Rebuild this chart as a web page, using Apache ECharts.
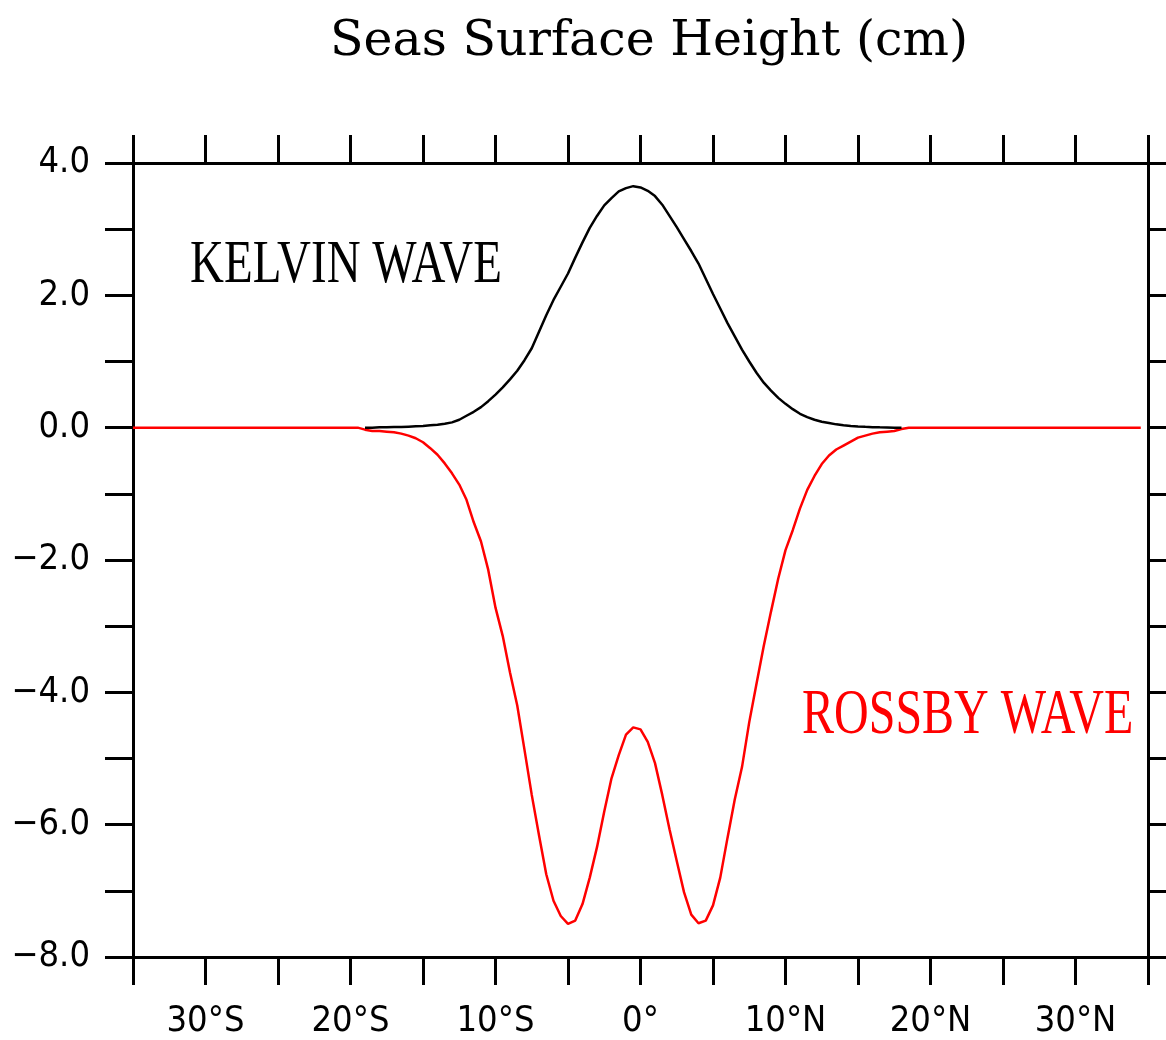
<!DOCTYPE html>
<html><head><meta charset="utf-8">
<script src="https://cdn.jsdelivr.net/npm/echarts@6/dist/echarts.min.js"></script>
<style>html,body{margin:0;padding:0;background:#fff}#c{width:1166px;height:1040px}</style>
</head><body><div id="c"></div><script>
// ---- data ----
const waveLat = [-19,-18.5,-18,-17.5,-17,-16.5,-16,-15.5,-15,-14.5,-14,-13.5,-13,-12.5,-12,-11.5,-11,-10.5,-10,-9.5,-9,-8.5,-8,-7.5,-7,-6.5,-6,-5.5,-5,-4.5,-4,-3.5,-3,-2.5,-2,-1.5,-1,-0.5,0,0.5,1,1.5,2,2.5,3,3.5,4,4.5,5,5.5,6,6.5,7,7.5,8,8.5,9,9.5,10,10.5,11,11.5,12,12.5,13,13.5,14,14.5,15,15.5,16,16.5,17,17.5,18];
const kelvinSSH = [0,0,0.005,0.005,0.01,0.01,0.015,0.02,0.025,0.035,0.045,0.06,0.08,0.12,0.18,0.24,0.31,0.4,0.5,0.61,0.73,0.86,1.02,1.2,1.45,1.7,1.93,2.13,2.33,2.57,2.8,3.02,3.2,3.36,3.47,3.57,3.62,3.65,3.63,3.58,3.5,3.37,3.2,3.03,2.85,2.67,2.48,2.25,2.02,1.8,1.58,1.38,1.18,1.0,0.83,0.68,0.56,0.45,0.36,0.28,0.21,0.16,0.12,0.09,0.07,0.05,0.035,0.025,0.018,0.012,0.008,0.005,0.003,0,0];
const rossbySSH = [-0.03,-0.05,-0.05,-0.06,-0.07,-0.09,-0.12,-0.16,-0.22,-0.31,-0.41,-0.54,-0.69,-0.86,-1.09,-1.43,-1.72,-2.15,-2.72,-3.15,-3.7,-4.2,-4.87,-5.55,-6.16,-6.75,-7.15,-7.38,-7.5,-7.45,-7.2,-6.8,-6.34,-5.8,-5.3,-4.95,-4.64,-4.53,-4.56,-4.75,-5.07,-5.55,-6.07,-6.55,-7.02,-7.36,-7.49,-7.45,-7.22,-6.8,-6.2,-5.62,-5.13,-4.45,-3.87,-3.3,-2.78,-2.28,-1.85,-1.55,-1.22,-0.94,-0.73,-0.55,-0.42,-0.33,-0.27,-0.21,-0.15,-0.12,-0.09,-0.07,-0.06,-0.05,-0.02];
const rossbyFlatLeft = [[-35, 0], [-19.5, 0]];
const rossbyFlatRight = [[18.5, 0], [34.5, 0]];
const xTickValues = [-30,-20,-10,0,10,20,30];
const xTickLabels = ['30°S','20°S','10°S','0°','10°N','20°N','30°N'];
const yTickValues = [-8,-6,-4,-2,0,2,4];
const yTickLabels = ['\u22128.0','\u22126.0','\u22124.0','\u22122.0','0.0','2.0','4.0'];
const titleText = 'Seas Surface Height (cm)';
const kelvinLabel = 'KELVIN WAVE';
const rossbyLabel = 'ROSSBY WAVE';

// ---- build ----
const kelvinData = waveLat.map((x, i) => [x, kelvinSSH[i]]);
const rossbyData = rossbyFlatLeft.concat(waveLat.map((x, i) => [x, rossbySSH[i]]), rossbyFlatRight);

const labelFont = "'Liberation Sans Narrow','DejaVu Sans Condensed','Liberation Sans'";
const axLine = {show: true, onZero: false, lineStyle: {color: '#000', width: 3}};
const tickOut = {show: true, inside: false, length: 28, lineStyle: {color: '#000', width: 3}};

function xFmt(v) { const i = xTickValues.indexOf(v); return i < 0 ? '' : xTickLabels[i]; }
function yFmt(v) { const i = yTickValues.indexOf(v); return i < 0 ? '' : yTickLabels[i]; }

const chart = echarts.init(document.getElementById('c'));
chart.setOption({
  animation: false,
  backgroundColor: '#fff',
  grid: {left: 133, right: 18, top: 163, bottom: 82, containLabel: false},
  xAxis: [
    {type: 'value', min: -35, max: 35, interval: 5, position: 'bottom',
     axisLine: axLine, axisTick: tickOut, splitLine: {show: false},
     axisLabel: {formatter: xFmt, margin: 47, color: '#000', fontSize: 36, fontFamily: labelFont, showMinLabel: true, showMaxLabel: true}},
    {type: 'value', min: -35, max: 35, interval: 5, position: 'top',
     axisLine: axLine, axisTick: tickOut, splitLine: {show: false}, axisLabel: {show: false}}
  ],
  yAxis: [
    {type: 'value', min: -8, max: 4, interval: 1, position: 'left',
     axisLine: axLine, axisTick: tickOut, splitLine: {show: false},
     axisLabel: {formatter: yFmt, margin: 43, color: '#000', fontSize: 36, fontFamily: labelFont}},
    {type: 'value', min: -8, max: 4, interval: 1, position: 'right',
     axisLine: axLine, axisTick: tickOut, splitLine: {show: false}, axisLabel: {show: false}}
  ],
  series: [
    {name: 'Rossby', type: 'line', data: rossbyData, showSymbol: false, symbol: 'none', silent: true,
     lineStyle: {color: '#ff0000', width: 2.5}, z: 2},
    {name: 'Kelvin', type: 'line', data: kelvinData, showSymbol: false, symbol: 'none', silent: true,
     lineStyle: {color: '#000000', width: 2.5}, z: 3}
  ],
  graphic: [
    {type: 'text', x: 649, y: 42, silent: true,
     style: {text: titleText, fontSize: 49, fontFamily: 'DejaVu Serif', fill: '#000', align: 'center', verticalAlign: 'middle'}},
    {type: 'text', x: 190, y: 266, scaleY: 1.3, silent: true,
     style: {text: kelvinLabel, fontSize: 47, fontFamily: 'Liberation Serif', fill: '#000', align: 'left', verticalAlign: 'middle'}},
    {type: 'text', x: 802, y: 717, scaleY: 1.3, silent: true,
     style: {text: rossbyLabel, fontSize: 48, fontFamily: 'Liberation Serif', fill: '#ff0000', align: 'left', verticalAlign: 'middle'}}
  ]
});
</script></body></html>
